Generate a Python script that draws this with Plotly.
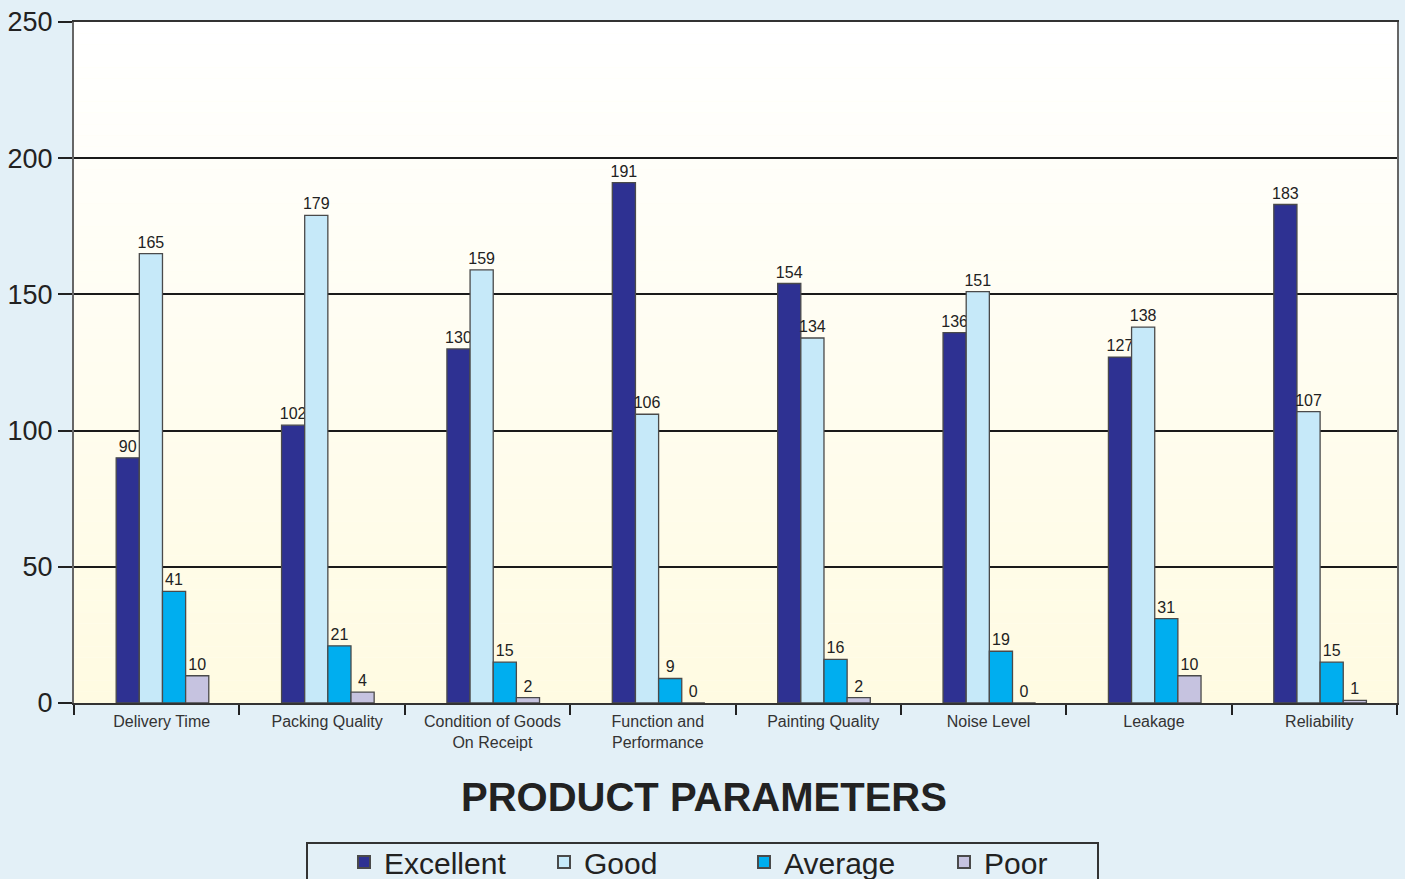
import plotly.graph_objects as go

categories = ["Delivery Time", "Packing Quality", "Condition of Goods<br>On Receipt",
              "Function and<br>Performance", "Painting Quality", "Noise Level",
              "Leakage", "Reliability"]
excellent = [90, 102, 130, 191, 154, 136, 127, 183]
good = [165, 179, 159, 106, 134, 151, 138, 107]
average = [41, 21, 15, 9, 16, 19, 31, 15]
poor = [10, 4, 2, 0, 2, 0, 10, 1]

series = [("Excellent", excellent, "#2E3192"),
          ("Good", good, "#C6E9F9"),
          ("Average", average, "#00AEEF"),
          ("Poor", poor, "#C6C3E0")]

W, H = 1405, 879
ML, MR, MT, MB = 74, 8, 22, 176
PW, PH = W - ML - MR, H - MT - MB

fig = go.Figure()
bw = 0.14
for i, (name, vals, col) in enumerate(series):
    fig.add_trace(go.Bar(
        x=categories, y=vals, name=name,
        marker=dict(color=col, line=dict(color="#4a4a4a", width=1.3)),
        width=bw, offset=-0.245 + i * bw,
        text=[str(v) for v in vals], textposition="outside",
        constraintext="none",
        textfont=dict(family="Arial, Liberation Sans, sans-serif", size=16, color="#222"),
        cliponaxis=False,
    ))

# gradient plot background (white top -> pale yellow bottom)
n = 60
top = (255, 255, 255)
bot = (255, 251, 226)
for k in range(n):
    t = k / (n - 1)
    r = round(top[0] + (bot[0] - top[0]) * t)
    g = round(top[1] + (bot[1] - top[1]) * t)
    b = round(top[2] + (bot[2] - top[2]) * t)
    fig.add_shape(type="rect", xref="x domain", yref="y domain",
                  x0=0, x1=1, y0=1 - (k + 1) / n, y1=1 - k / n,
                  fillcolor=f"rgb({r},{g},{b})", line=dict(width=0), layer="below")

# legend frame (pixel positions converted to paper coords)
def px_x(px):
    return (px - ML) / PW

def px_y(py):
    return (H - MB - py) / PH

fig.add_shape(type="rect", xref="paper", yref="paper",
              x0=px_x(307), x1=px_x(1098), y0=px_y(843), y1=px_y(900),
              line=dict(color="#333", width=2), fillcolor="rgba(0,0,0,0)", layer="above")

fig.update_layout(
    width=W, height=H,
    margin=dict(l=ML, r=MR, t=MT, b=MB, autoexpand=False),
    paper_bgcolor="#E3F0F7",
    plot_bgcolor="#FFFDF0",
    barmode="group",
    bargap=0.44,
    font=dict(family="Arial, Liberation Sans, sans-serif", color="#222"),
    showlegend=True,
    legend=dict(orientation="h", xref="container", yref="container",
                x=344 / W, xanchor="left", y=1 - 836 / H, yanchor="top",
                borderwidth=0, bgcolor="rgba(0,0,0,0)",
                font=dict(family="Liberation Sans Narrow, Arial Narrow, Arial", size=30, color="#222"),
                entrywidth=155, entrywidthmode="pixels", itemsizing="constant"),
    annotations=[dict(text="<b>PRODUCT PARAMETERS</b>", xref="paper", yref="paper",
                      x=px_x(704), y=px_y(797), xanchor="center", yanchor="middle",
                      showarrow=False,
                      font=dict(family="Arial, Liberation Sans, sans-serif", size=40, color="#222"))],
)

fig.update_yaxes(range=[0, 250], dtick=50, showgrid=True, gridcolor="#1a1a1a", gridwidth=2,
                 ticks="outside", ticklen=14, tickwidth=2, tickcolor="#222",
                 tickfont=dict(size=27, color="#222"),
                 showline=True, linecolor="#666", linewidth=2, mirror=True, zeroline=False)
fig.update_xaxes(type="category", tickson="boundaries", ticks="outside", ticklen=10,
                 tickwidth=2, tickcolor="#222", tickfont=dict(size=16, color="#333"),
                 ticklabelshift=5, ticklabelstandoff=3,
                 showline=True, linecolor="#333", linewidth=2, mirror=True, showgrid=False)

fig.write_html("out.html", config={"displayModeBar": False},
               post_script="document.body.style.margin='0';document.body.style.overflow='hidden';")
